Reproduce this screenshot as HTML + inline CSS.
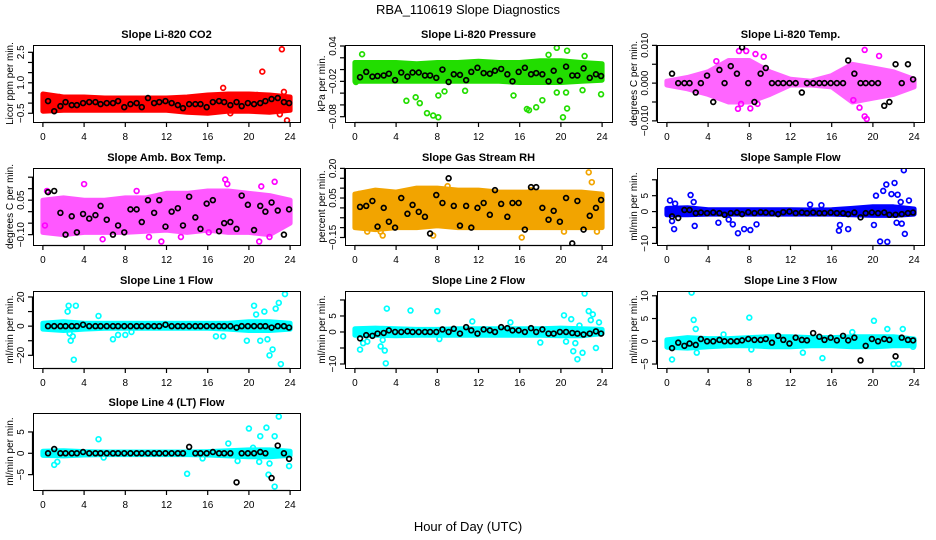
<!DOCTYPE html>
<html><head><meta charset="utf-8">
<style>
html,body{margin:0;padding:0;background:#fff;}
svg{display:block;font-family:"Liberation Sans",Arial,sans-serif;}
</style></head>
<body>
<svg id="chart" width="936" height="540" viewBox="0 0 936 540" xmlns="http://www.w3.org/2000/svg">
<text x="468" y="14" text-anchor="middle" font-size="13">RBA_110619  Slope Diagnostics</text>
<text x="468" y="531" text-anchor="middle" font-size="13">Hour of Day (UTC)</text>
</svg>
<script>
const bandHours = [0,2,4,6,8,10,12,14,16,18,20,22,24];
const blackHours = [0.5,1.1,1.7,2.2,2.8,3.3,3.9,4.5,5.1,5.6,6.2,6.8,7.3,7.9,8.5,9.1,9.6,10.2,10.8,11.3,11.9,12.5,13.1,13.6,14.2,14.8,15.3,15.9,16.5,17.1,17.6,18.2,18.8,19.3,19.9,20.5,21.1,21.6,22.2,22.8,23.4,23.9];
const xTicks = [0,4,8,12,16,20,24];

const co2Lo = [-0.4,-0.35,-0.35,-0.35,-0.35,-0.35,-0.35,-0.45,-0.5,-0.4,-0.4,-0.45,-0.35];
const co2Hi = [0.45,0.3,0.3,0.25,0.25,0.25,0.25,0.3,0.4,0.45,0.45,0.4,0.3];
const co2OutX = [0.3,1.6,17.5,21.3,23.2,23.4,23.7,23.0,18.2,20.8];
const co2OutY = [0.25,0.3,0.75,1.55,2.65,0.55,-0.85,-0.55,-0.5,0.4];
const co2Black = [0.1,-0.4,-0.15,0.05,-0.1,-0.1,0.0,0.05,0.05,-0.05,0.0,0.0,0.1,-0.2,-0.05,0.0,-0.2,0.25,0.0,0.05,0.1,0.0,-0.1,-0.25,-0.05,-0.05,-0.05,-0.2,0.05,0.1,0.05,-0.1,0.05,-0.15,0.0,-0.05,0.0,0.1,0.2,0.25,0.05,0.0];

const presLo = [-0.02,-0.02,-0.02,-0.02,-0.02,-0.02,-0.02,-0.02,-0.022,-0.022,-0.022,-0.02,-0.018];
const presHi = [0.012,0.012,0.012,0.01,0.012,0.012,0.014,0.012,0.012,0.015,0.015,0.012,0.01];
const presOutX = [0.1,0.7,5.0,5.9,6.3,7.0,7.6,8.1,8.1,8.7,10.7,15.4,16.7,16.9,17.6,18.2,19.6,20.6,20.6,20.5,19.6,22.1,23.9,18.8,22.3,20.2];
const presOutY = [-0.021,0.026,-0.053,-0.047,-0.057,-0.074,-0.078,-0.081,-0.044,-0.037,-0.036,-0.044,-0.067,-0.069,-0.064,-0.052,0.037,-0.066,0.032,-0.039,-0.039,-0.035,-0.042,0.025,0.023,-0.081];
const presBlack = [-0.013,-0.004,-0.012,-0.011,-0.01,-0.007,-0.018,-0.005,-0.012,-0.005,-0.005,-0.01,-0.01,-0.014,0.0,-0.021,-0.008,-0.009,-0.018,-0.004,0.003,-0.006,-0.007,-0.002,0.001,-0.008,-0.02,-0.004,0.003,-0.008,-0.006,-0.008,-0.02,-0.002,-0.019,0.005,-0.01,-0.01,0.002,-0.014,-0.008,-0.011];

const tempLo = [-0.0005,-0.0015,-0.003,-0.005,-0.005,-0.003,-0.0005,-0.0005,-0.001,-0.005,-0.004,-0.003,-0.001];
const tempHi = [0.0005,0.0015,0.003,0.006,0.006,0.003,0.001,0.0005,0.002,0.005,0.004,0.003,0.001];
const tempOutX = [7.0,7.7,8.6,8.1,19.2,20.6,19.2,19.4,18.7,18.1,7.2,6.9,4.8,8.8,9.4];
const tempOutY = [0.0085,0.0085,0.0077,-0.0067,0.0088,0.0072,-0.0088,-0.0095,-0.0065,-0.0045,-0.0055,-0.0068,0.0058,-0.0055,0.007];
const tempBlack = [0.0025,0.0,0.0,0.0,-0.0025,0.0,0.002,-0.005,0.0035,0.0,0.0045,0.0025,0.0095,0.0,-0.005,0.0025,0.004,0.0,0.0,0.0,0.0,0.0,-0.0025,0.0,0.0,0.0,0.0,0.0,0.0,0.0,0.006,0.0025,0.0,0.0,0.0,0.0,-0.006,-0.005,0.005,0.0,0.005,0.001];

const ambLo = [-0.09,-0.1,-0.09,-0.09,-0.09,-0.085,-0.08,-0.09,-0.08,-0.09,-0.09,-0.1,-0.05];
const ambHi = [0.05,0.06,0.05,0.05,0.06,0.06,0.08,0.08,0.09,0.09,0.08,0.07,0.05];
const ambOutX = [4.0,22.5,17.7,21.0,11.5,5.8,0.4,9.1,17.9,21.2,10.3,13.4,16.1,22.0,0.2];
const ambOutY = [0.12,0.13,0.14,-0.13,-0.13,-0.12,0.09,0.09,0.12,0.11,-0.11,-0.11,-0.09,-0.11,-0.06];
const ambBlack = [0.085,0.09,-0.005,-0.1,-0.02,-0.09,-0.01,-0.03,-0.015,0.025,-0.035,-0.1,-0.06,-0.09,0.01,0.01,-0.045,0.05,-0.005,0.05,-0.065,0.0,0.015,-0.06,0.065,-0.025,-0.075,0.035,0.05,-0.085,-0.05,-0.045,-0.075,0.07,0.03,-0.08,0.025,0.0,0.04,0.005,-0.1,0.01];

const rhLo = [-0.1,-0.11,-0.1,-0.1,-0.09,-0.1,-0.1,-0.1,-0.1,-0.1,-0.1,-0.1,-0.1];
const rhHi = [0.07,0.09,0.08,0.1,0.1,0.09,0.09,0.08,0.08,0.08,0.08,0.08,0.07];
const rhOutX = [0.4,1.2,2.7,9.0,22.7,23.0,7.6,16.2,20.3,12.6,17.1,23.5,2.5];
const rhOutY = [0.07,-0.12,-0.14,0.11,0.18,0.13,-0.14,-0.15,-0.12,0.08,0.09,-0.12,-0.12];
const rhBlack = [0.005,0.01,0.035,-0.095,0.0,-0.07,-0.1,0.05,-0.03,0.015,-0.02,-0.045,-0.13,0.065,0.025,0.15,0.01,-0.09,0.01,-0.1,0.0,0.025,-0.035,0.09,0.02,-0.045,0.025,0.025,-0.11,0.105,0.105,0.0,-0.06,-0.015,-0.07,0.05,-0.18,0.035,-0.11,-0.04,0.0,0.04];

const flowLo = [-1,-1,-0.8,-0.8,-0.8,-0.8,-0.8,-0.8,-0.8,-1,-1.2,-1.2,-0.8];
const flowHi = [1,1.2,0.6,0.6,0.6,0.6,0.6,0.5,0.6,1,1.5,1.5,0.8];
const flowOutX = [0.3,0.8,0.5,0.7,2.3,2.6,2.7,5.0,6.0,6.4,6.9,7.5,8.1,8.7,13.9,15.0,16.7,16.8,17.6,20.1,20.3,20.7,21.0,21.3,21.4,21.8,22.1,22.4,22.3,22.8,23.0,23.1,23.5,22.7];
const flowOutY = [3.5,2.5,-3,-5.5,5.2,3,-4.5,-3.5,-2.5,-4,-6.8,-5.5,-5.8,-4,2.2,2,-6,-4.2,-5.5,-4.2,5,-9.4,6.5,8.5,-9.5,5.5,9,5.3,-3.5,-3.8,13,-7,3.5,3];
const flowBlack = [-1.5,-2,0.5,0.5,-0.5,-0.3,-0.5,-0.3,-0.5,-1,-0.5,-0.3,-0.8,-0.2,-0.5,-0.2,-0.3,-0.5,-0.8,-0.2,0,-0.5,-0.3,-0.5,-0.3,-0.5,-0.5,-0.3,-0.5,-0.5,-0.8,-0.3,-1.8,-0.5,-0.3,-0.5,-0.3,-1,-1,-0.8,-0.5,-0.3];

const l1Lo = [-2,-3,-2,-1.5,-1.5,-1.5,-1.5,-1.5,-1.5,-2,-3,-3,-2];
const l1Hi = [2,3,2,2,2,2,2,2,2,2,3,3,2];
const l1OutX = [2.4,2.5,2.7,2.9,3.2,3.0,2.6,5.4,6.8,7.3,8.0,8.6,16.8,17.5,20.5,20.7,21.1,21.5,21.8,22.0,22.3,22.6,22.9,23.1,23.5,19.8];
const l1OutY = [10,14,-10,-7,14,-23,-5,7,-9,-6,-6,-4,-7,-7,14,8,-10,10,-9,-20,-16,12,16,-26,22,-10];
const l1Black = [0,0,0,0,0,0,1,0,0,0,0,0,0,0,0,0,0,0,0,0,1,0,0,0,0,0,0,0,0,0,0,0,-1,0,0,0,0,0,-1,0,0,-1];

const l2Lo = [-1,-1,-1.2,-1,-1,-1,-1,-1,-1,-1,-1.2,-1.2,-0.5];
const l2Hi = [1,1.2,1,0.8,0.8,1,1,1,1,1,1.2,1,0.8];
const l2OutX = [0.5,0.8,1.2,2.5,2.7,2.9,3.0,3.1,5.4,8.0,8.2,11.4,15.1,18.0,20.3,20.5,21.0,21.2,21.4,21.6,21.8,22.1,22.3,22.7,22.9,23.1,23.4,23.7];
const l2OutY = [-5.5,-3.5,-3,-4.5,-2.5,-5.8,-9.8,7.3,6.7,6.5,-2.2,3.3,3,-3.3,5.2,-3,4,-6,-3.5,-8.5,2,-6.5,12,6.5,3.7,5.5,-5,3];
const l2Black = [-2,-1,-1.2,-0.5,-0.3,0.5,0,0,0.2,0,0,0,0,0,0.8,0,1,-0.5,1.5,0.5,-0.5,0.8,0.5,0,1.5,1.2,0.5,0.5,0,1.2,0,0.8,-0.5,-0.5,0,0,-0.3,-0.5,-0.8,-0.5,0.2,-0.5];

const l3Lo = [-1.3,-1.5,-1.2,-1,-1,-1.2,-1.2,-1,-1,-1.2,-1.2,-1,-1];
const l3Hi = [0.3,0.8,0.6,0.6,0.8,1,1,0.8,0.8,1,1,1,0.5];
const l3OutX = [0.5,2.4,2.6,2.8,2.9,5.5,8.0,8.2,13.2,15.1,18.0,20.1,21.4,22.0,22.5,22.9,23.9];
const l3OutY = [-4,10.7,4.7,2.7,-2.5,1.5,5.2,-1.8,-2.5,-3.7,2,4.5,2.7,-5,-5,2.7,-1.2];
const l3Black = [-1.5,-0.3,-1,-0.5,-0.8,0.5,0,0,0.3,0,0,0,0.2,0.5,0.3,0.3,0.5,-0.3,1.2,0.3,-0.5,0.8,0.3,0.2,1.8,1,0.3,0.8,0.2,1.2,0.2,0.8,-4.2,-1,0.5,0,0.5,0.3,-3.3,0.8,0.3,0.2];

const l4Lo = [-0.5,-0.6,-0.4,-0.3,-0.3,-0.3,-0.3,-0.3,-0.4,-0.6,-0.8,-0.8,-0.5];
const l4Hi = [0.5,0.6,0.4,0.3,0.3,0.3,0.3,0.3,0.4,0.6,0.8,0.8,0.5];
const l4OutX = [1.1,1.4,5.4,5.9,14.0,15.5,18.0,18.9,20.0,20.4,21.0,21.1,21.7,21.9,22.0,22.5,22.5,22.9,23.9];
const l4OutY = [-2.7,-2,3.3,-1,-4.8,-1.2,2.3,-1.8,5.8,1.3,-2,4,6,-5,-2.4,-7.8,4,8.6,-3];
const l4Black = [0,1,0,0,0,0,0.3,0,0,0,0,0,0,0,0,0,0,0,0,0,0,0,0,0,1.5,0,0,0,0.3,0,0,0,-6.8,0,0,0,0.3,0,-5.8,1.8,0,-1.3];

const NS = 'http://www.w3.org/2000/svg';
const svg = document.getElementById('chart');
function mk(tag, attrs, parent){
  const e = document.createElementNS(NS, tag);
  for (const k in attrs) e.setAttribute(k, attrs[k]);
  (parent||svg).appendChild(e);
  return e;
}
const colLeft = [33,345,657];
const rowTop = [45,168,291,413];
const BW = 267, BH = 77;

const panels = [
 {name:'co2',title:'Slope Li-820 CO2',ylab:'Licor ppm per min.',col:0,row:0,ylim:[-0.93,2.86],ticks:[-0.5,0,0.5,1,1.5,2,2.5],labels:[-0.5,1.0,2.5],dec:1,color:'#ff0000',op:1,lo:co2Lo,hi:co2Hi,ox:co2OutX,oy:co2OutY,bk:co2Black},
 {name:'pressure',title:'Slope Li-820 Pressure',ylab:'kPa per min.',col:1,row:0,ylim:[-0.089,0.0417],ticks:[0.04,0.02,0,-0.02,-0.04,-0.06,-0.08],labels:[0.04,-0.02,-0.08],dec:2,color:'#22dd00',op:1,lo:presLo,hi:presHi,ox:presOutX,oy:presOutY,bk:presBlack},
 {name:'temp',title:'Slope Li-820 Temp.',ylab:'degrees C per min.',col:2,row:0,ylim:[-0.0103,0.0101],ticks:[-0.01,-0.005,0,0.005,0.01],labels:[-0.01,0,0.01],dec:3,color:'#ff00ff',op:0.6,lo:tempLo,hi:tempHi,ox:tempOutX,oy:tempOutY,bk:tempBlack},
 {name:'amb-box-temp',title:'Slope Amb. Box Temp.',ylab:'degrees C per min.',col:0,row:1,ylim:[-0.145,0.19],ticks:[-0.1,-0.05,0,0.05,0.1,0.15],labels:[-0.1,0.05],dec:2,color:'#ff00ff',op:0.65,lo:ambLo,hi:ambHi,ox:ambOutX,oy:ambOutY,bk:ambBlack},
 {name:'gas-stream-rh',title:'Slope Gas Stream RH',ylab:'percent per min.',col:1,row:1,ylim:[-0.188,0.202],ticks:[-0.15,-0.1,-0.05,0,0.05,0.1,0.15,0.2],labels:[-0.15,0.05,0.2],dec:2,color:'#f2a400',op:1,lo:rhLo,hi:rhHi,ox:rhOutX,oy:rhOutY,bk:rhBlack},
 {name:'sample-flow',title:'Slope Sample Flow',ylab:'ml/min per min.',col:2,row:1,ylim:[-10.5,13.7],ticks:[-10,-5,0,5,10],labels:[-10,0,5],dec:0,color:'#0000ff',op:1,lo:flowLo,hi:flowHi,ox:flowOutX,oy:flowOutY,bk:flowBlack},
 {name:'line1-flow',title:'Slope Line 1 Flow',ylab:'ml/min per min.',col:0,row:2,ylim:[-28.7,24.1],ticks:[-20,-10,0,10,20],labels:[-20,0,20],dec:0,color:'#00ffff',op:1,lo:l1Lo,hi:l1Hi,ox:l1OutX,oy:l1OutY,bk:l1Black},
 {name:'line2-flow',title:'Slope Line 2 Flow',ylab:'ml/min per min.',col:1,row:2,ylim:[-11.25,12.8],ticks:[-10,-5,0,5,10],labels:[-10,0,5],dec:0,color:'#00ffff',op:1,lo:l2Lo,hi:l2Hi,ox:l2OutX,oy:l2OutY,bk:l2Black},
 {name:'line3-flow',title:'Slope Line 3 Flow',ylab:'ml/min per min.',col:2,row:2,ylim:[-5.87,11.05],ticks:[-5,0,5,10],labels:[-5,0,5,10],dec:0,color:'#00ffff',op:1,lo:l3Lo,hi:l3Hi,ox:l3OutX,oy:l3OutY,bk:l3Black},
 {name:'line4-flow',title:'Slope Line 4 (LT) Flow',ylab:'ml/min per min.',col:0,row:3,ylim:[-8.6,9.44],ticks:[-5,0,5],labels:[-5,0,5],dec:0,color:'#00ffff',op:1,lo:l4Lo,hi:l4Hi,ox:l4OutX,oy:l4OutY,bk:l4Black}
];

function fmt(v,d){ let s=v.toFixed(d); if (v<0) s='\u2212'+s.slice(1); return s; }

panels.forEach(p=>{
  const L = colLeft[p.col], T = rowTop[p.row];
  const g = mk('g',{});
  
  
  const xs = h => L + (h + 0.96) / 25.92 * BW;
  const ys = v => T + BH - (v - p.ylim[0]) / (p.ylim[1] - p.ylim[0]) * BH;
  const clip = mk('clipPath',{id:'clip-'+p.name},g);
  mk('rect',{x:L,y:T,width:BW,height:BH},clip);
  const plot = mk('g',{'clip-path':'url(#clip-'+p.name+')'},g);
  let d = '';
  bandHours.forEach((h,i)=>{ d += (i?'L':'M') + xs(h).toFixed(1) + ' ' + ys(p.hi[i]).toFixed(1) + ' '; });
  for (let i = bandHours.length-1; i>=0; i--) d += 'L' + xs(bandHours[i]).toFixed(1) + ' ' + ys(p.lo[i]).toFixed(1) + ' ';
  const band = mk('path',{d:d+'Z',fill:p.color,stroke:p.color,'stroke-width':5,'stroke-linejoin':'round','opacity':p.op},plot);
  
  
  p.ox.forEach((h,i)=>{
    const c = mk('circle',{cx:xs(h),cy:ys(p.oy[i]),r:2.4,fill:'none',stroke:p.color,'stroke-width':1.7},plot);
    
    
  });
  blackHours.forEach((h,i)=>{
    const c = mk('circle',{cx:xs(h),cy:ys(p.bk[i]),r:2.4,fill:'none',stroke:'#000','stroke-width':1.7},plot);
    
    
  });
  const box = mk('rect',{x:L+0.5,y:T+0.5,width:BW,height:BH,fill:'none',stroke:'#000','stroke-width':1},g);
  
  
  const tt = mk('text',{x:L+BW/2,y:T-7,'text-anchor':'middle','font-size':11,'font-weight':'bold'},g);
  tt.textContent = p.title;
  
  
  mk('line',{x1:xs(0),x2:xs(24),y1:T+BH+0.5,y2:T+BH+0.5,stroke:'#000','stroke-width':1.2},g);
  xTicks.forEach(h=>{
    mk('line',{x1:xs(h),x2:xs(h),y1:T+BH,y2:T+BH+5,stroke:'#000','stroke-width':1.2},g);
    const t = mk('text',{x:xs(h),y:T+BH+18,'text-anchor':'middle','font-size':10},g);
    t.textContent = h;
    
    
  });
  const tv = p.ticks.filter(v=>v>=p.ylim[0]&&v<=p.ylim[1]);
  mk('line',{x1:L-0.5,x2:L-0.5,y1:ys(Math.min(...tv)),y2:ys(Math.max(...tv)),stroke:'#000','stroke-width':1.2},g);
  tv.forEach(v=>{ mk('line',{x1:L-5,x2:L,y1:ys(v),y2:ys(v),stroke:'#000','stroke-width':1.2},g); });
  p.labels.forEach(v=>{
    const yy = ys(v), xx = L-9;
    const t = mk('text',{x:xx,y:yy,'text-anchor':'middle','font-size':10,transform:'rotate(-90 '+xx+' '+yy+')'},g);
    t.textContent = fmt(v,p.dec);
    
    
  });
  const yx = L-20, yy = T+BH/2;
  const yl = mk('text',{x:yx,y:yy,'text-anchor':'middle','font-size':10,transform:'rotate(-90 '+yx+' '+yy+')'},g);
  yl.textContent = p.ylab;
  
  
});
</script>
</body></html>
